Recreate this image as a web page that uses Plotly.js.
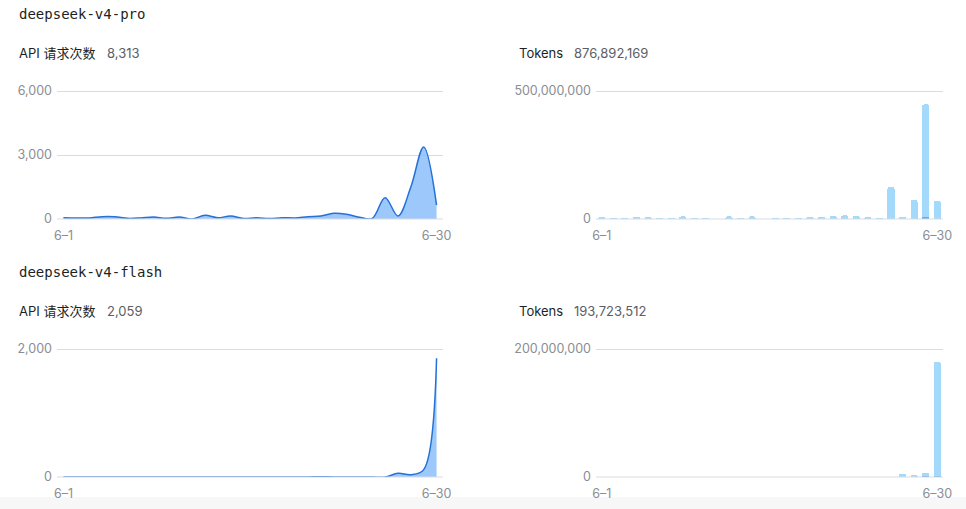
<!DOCTYPE html>
<html>
<head>
<meta charset="utf-8">
<script src="https://cdn.plot.ly/plotly-3.0.1.min.js"></script>
<style>
html,body{margin:0;padding:0;background:#f7f7f8;}
#chart{width:966px;height:509px;background:#fff;}
</style>
</head>
<body>
<div id="chart"></div>
<script>
// ---- data ----
const days = ["6-1","6-2","6-3","6-4","6-5","6-6","6-7","6-8","6-9","6-10","6-11","6-12","6-13","6-14","6-15","6-16","6-17","6-18","6-19","6-20","6-21","6-22","6-23","6-24","6-25","6-26","6-27","6-28","6-29","6-30"];
const proRequests = [62,50,50,110,105,30,50,95,30,95,5,170,60,140,20,60,20,60,50,110,140,265,220,80,30,1000,140,1500,3380,655];
const proTokensLight = [8e6,4e6,4e6,8e6,9e6,4e6,3e6,10e6,4e6,5e6,1.5e6,10e6,4e6,10e6,1e6,4e6,2.5e6,5e6,6.5e6,9e6,12e6,14e6,12e6,8e6,3e6,125e6,7e6,74e6,440e6,71e6];
const proTokensDark = [0,0,0,0,0,0,0,0,0,0,0,0,0,0,0,0,0,0,0,0,0,0,0,0,0,0,0,0,8e6,0];
const flashRequests = [0,0,0,0,0,0,0,0,0,0,0,0,0,0,0,0,0,0,0,0,4,0,0,0,0,0,57,36,115,1855];
const flashTokensLight = [0,0,0,0,0,0,0,0,0,0,0,0,0,0,0,0,0,0,0,0,0,0,0,0,0,0,4.7e6,3e6,5.3e6,178e6];
const flashTokensDark = [0,0,0,0,0,0,0,0,0,0,0,0,0,0,0,0,0,0,0,0,0,0,0,0,0,0,0,0,1.5e6,2e6];
const xTickVals = [0,29];
const xTickText = ["6–1","6–30"];
const proReqTicks = [0,3000,6000], proReqTickText = ["0","3,000","6,000"];
const proTokTicks = [0,500000000], proTokTickText = ["0","500,000,000"];
const flashReqTicks = [0,2000], flashReqTickText = ["0","2,000"];
const flashTokTicks = [0,200000000], flashTokTickText = ["0","200,000,000"];
const models = ["deepseek-v4-pro","deepseek-v4-flash"];
const totals = {proReq:"8,313", proTok:"876,892,169", flashReq:"2,059", flashTok:"193,723,512"};

// ---- layout helpers ----
const W = 966, H = 509;
const px = x => x / W;
const py = y => 1 - y / H;
const idx = days.map((d,i)=>i);

const lineColor = "#2371d9", fillColor = "rgba(140,190,250,0.85)";
const barLight = "#a3d9fa", barDark = "#6fa6ea";

const traces = [
  {x: idx, y: proRequests, type:"scatter", mode:"lines", line:{shape:"spline", smoothing:1, color:lineColor, width:1.5}, fill:"tozeroy", fillcolor:fillColor, xaxis:"x", yaxis:"y", hoverinfo:"skip"},
  {x: idx, y: proTokensDark, type:"bar", marker:{color:barDark}, xaxis:"x2", yaxis:"y2", hoverinfo:"skip"},
  {x: idx, y: proTokensLight, type:"bar", marker:{color:barLight, cornerradius:2}, xaxis:"x2", yaxis:"y2", hoverinfo:"skip"},
  {x: idx, y: flashRequests, type:"scatter", mode:"lines", line:{shape:"spline", smoothing:1, color:lineColor, width:1.5}, fill:"tozeroy", fillcolor:fillColor, xaxis:"x3", yaxis:"y3", hoverinfo:"skip"},
  {x: idx, y: flashTokensDark, type:"bar", marker:{color:barDark}, xaxis:"x4", yaxis:"y4", hoverinfo:"skip"},
  {x: idx, y: flashTokensLight, type:"bar", marker:{color:barLight, cornerradius:2}, xaxis:"x4", yaxis:"y4", hoverinfo:"skip"}
];

const tickFont = {family:"Inter, 'Noto Sans CJK SC', sans-serif", size:12.5, color:"#8a8d94"};
function xa(l, r, anchor){
  return {domain:[px(l),px(r)], range:[-0.5,29.5], anchor:anchor, tickvals:xTickVals, ticktext:xTickText,
    showgrid:false, zeroline:false, showline:false, ticks:"", tickfont:tickFont, fixedrange:true, ticklabelstandoff:7};
}
function ya(t, b, anchor, vals, text, max){
  return {domain:[py(b),py(t-1)], range:[0,max*1.008], anchor:anchor, tickvals:vals, ticktext:text,
    showgrid:true, gridcolor:"#d9dbe0", gridwidth:1, zeroline:false, showline:false, ticks:"",
    tickfont:tickFont, fixedrange:true, ticklabelstandoff:4};
}

const labFont = {family:"Inter, 'Noto Sans CJK SC', sans-serif", size:13, color:"#1d1f24"};
const valFont = {family:"Inter, 'Noto Sans CJK SC', sans-serif", size:13, color:"#5b5e66"};
const monoFont = {family:"'DejaVu Sans Mono', 'Liberation Mono', monospace", size:14, color:"#1d1f24"};
function ann(x, y, text, font){
  return {xref:"paper", yref:"paper", x:px(x), y:py(y), xanchor:"left", yanchor:"middle", text:text, showarrow:false, font:font};
}

const layout = {
  width: W, height: H,
  margin:{l:0,r:0,t:0,b:0},
  paper_bgcolor:"#fff", plot_bgcolor:"rgba(0,0,0,0)",
  showlegend:false, barmode:"stack", bargap:0.38,
  xaxis: xa(57,443,"y"),
  yaxis: ya(91,219,"x",proReqTicks,proReqTickText,6000),
  xaxis2: xa(596,943,"y2"),
  yaxis2: ya(91,219,"x2",proTokTicks,proTokTickText,500000000),
  xaxis3: xa(57,443,"y3"),
  yaxis3: ya(349,477,"x3",flashReqTicks,flashReqTickText,2000),
  xaxis4: xa(596,943,"y4"),
  yaxis4: ya(349,477,"x4",flashTokTicks,flashTokTickText,200000000),
  shapes:[
    {type:"rect", xref:"paper", yref:"paper", x0:0, x1:1, y0:0, y1:py(497), fillcolor:"#f7f7f8", line:{width:0}, layer:"below"},
    {type:"line", xref:"paper", yref:"paper", x0:px(57), x1:px(443), y0:py(219), y1:py(219), line:{color:"#d9dbe0", width:1}},
    {type:"line", xref:"paper", yref:"paper", x0:px(596), x1:px(943), y0:py(219), y1:py(219), line:{color:"#d9dbe0", width:1}},
    {type:"line", xref:"paper", yref:"paper", x0:px(57), x1:px(443), y0:py(477), y1:py(477), line:{color:"#d9dbe0", width:1}},
    {type:"line", xref:"paper", yref:"paper", x0:px(596), x1:px(943), y0:py(477), y1:py(477), line:{color:"#d9dbe0", width:1}}
  ],
  annotations:[
    ann(17,14,models[0],monoFont),
    ann(17,53,"API 请求次数",labFont),
    ann(105,53,totals.proReq,valFont),
    ann(517,53,"Tokens",labFont),
    ann(572,53,totals.proTok,valFont),
    ann(17,272,models[1],monoFont),
    ann(17,311,"API 请求次数",labFont),
    ann(105,311,totals.flashReq,valFont),
    ann(517,311,"Tokens",labFont),
    ann(572,311,totals.flashTok,valFont)
  ]
};

Plotly.newPlot("chart", traces, layout, {displayModeBar:false, staticPlot:true});
</script>
</body>
</html>
